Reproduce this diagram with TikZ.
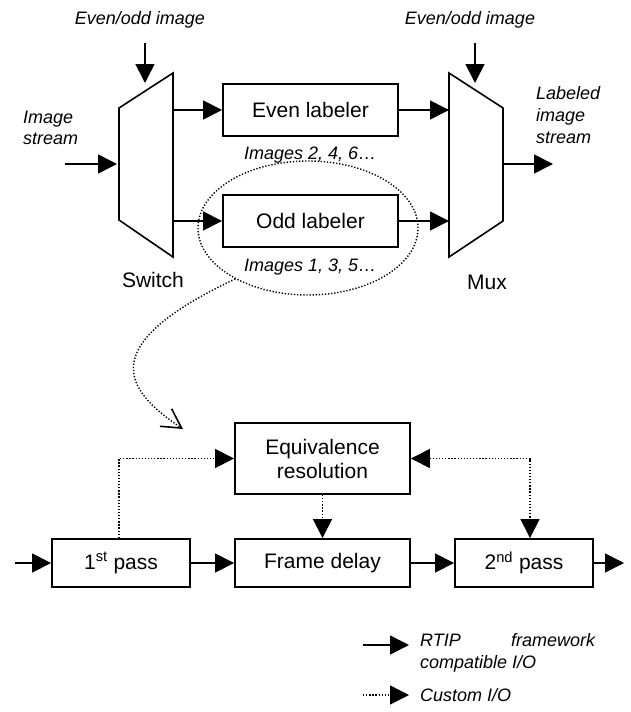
\documentclass[tikz,border=0pt]{standalone}
\usepackage{fontspec}
\setmainfont{Liberation Sans}
\usetikzlibrary{arrows.meta,shapes.geometric}
\begin{document}
\begin{tikzpicture}[
                x = 1pt, y = -1pt,
                io/.style = {line width = 1.6pt, -{Triangle[length = 19pt, width = 19pt]}},
                dots/.style = {line width = 1.4pt, dash pattern = on 1.3pt off 1.8pt},
                custom/.style = {dots, -{Triangle[length = 19pt, width = 19pt]}},
                blk/.style = {draw, line width = 1.9pt, font = \fontsize{21}{24}\selectfont, minimum width = 175pt, minimum height = 52pt, inner sep = 0pt, align = center},
                tag/.style = {font = \fontsize{18}{21.6}\selectfont\itshape, inner sep = 0pt, align = left},
                word/.style = {font = \fontsize{21}{24}\selectfont, inner sep = 0pt}
                ]
                \useasboundingbox (0,0) rectangle (631,712);
                % switch and mux
                \coordinate (sw-nw) at (119,108);
                \coordinate (sw-ne) at (173,73);
                \coordinate (sw-se) at (173,257);
                \coordinate (sw-sw) at (119,220);
                \draw[line width = 1.6pt, line join = miter] (sw-nw) -- (sw-ne) -- (sw-se) -- (sw-sw) -- cycle;
                \coordinate (mx-nw) at (449,73);
                \coordinate (mx-ne) at (503,108);
                \coordinate (mx-se) at (503,221);
                \coordinate (mx-sw) at (449,257);
                \draw[line width = 1.6pt, line join = miter] (mx-nw) -- (mx-ne) -- (mx-se) -- (mx-sw) -- cycle;
                \node[word] (switch) at (153,280) {Switch};
                \node[word] (mux) at (487,282) {Mux};
                % labelers
                \node[blk] (even) at (310.5,110) {Even labeler};
                \node[blk] (odd) at (310.5,221) {Odd labeler};
                \node[tag, anchor = west] (evenimg) at (244,155) {Images 2, 4, 6…};
                \node[tag, anchor = west] (oddimg) at (244,267) {Images 1, 3, 5…};
                \node[tag] (selA) at (140,20) {Even/odd image};
                \node[tag] (selB) at (470,20) {Even/odd image};
                \node[tag, anchor = west] (instream) at (23,128) {Image\\stream};
                \node[tag, anchor = west] (outstream) at (536,115) {Labeled\\image\\stream};
                \coordinate (swin) at (65,164);
                \coordinate (swin-end) at (117,164);
                \coordinate (selA-top) at (145,43);
                \coordinate (selA-end) at (145,83);
                \coordinate (selB-top) at (475,43);
                \coordinate (selB-end) at (475,83);
                \coordinate (mxout) at (503,164);
                \coordinate (mxout-end) at (553,164);
                \draw[io] (swin) -- (swin-end);
                \draw[io] (selA-top) -- (selA-end);
                \draw[io] (selB-top) -- (selB-end);
                \draw[io] (sw-ne |- even.west) -- (even.west);
                \draw[io] (sw-ne |- odd.west) -- (odd.west);
                \draw[io] (even.east) -- (mx-nw |- even.east);
                \draw[io] (odd.east) -- (mx-nw |- odd.east);
                \draw[io] (mxout) -- (mxout-end);
                % the odd labeler, opened up
                \node[ellipse, draw, dots, minimum width = 220pt, minimum height = 134pt, inner sep = 0pt] (group) at (308,228) {};
                \coordinate (zoom) at (183,429);
                \draw[dots, -{Straight Barb[length = 19pt, width = 21pt, line width = 1.6pt]}]
                    (group.215) .. controls (95,345) and (123,389) .. (zoom);
                \node[blk, minimum height = 71pt] (equiv) at (322.5,458.5) {Equivalence\\resolution};
                \node[blk, minimum height = 48pt] (delay) at (322.5,563) {Frame delay};
                \node[blk, minimum width = 138pt, minimum height = 48pt] (pass1) at (121,563) {1\textsuperscript{st} pass};
                \node[blk, minimum width = 138pt, minimum height = 48pt] (pass2) at (524,563) {2\textsuperscript{nd} pass};
                \coordinate (in) at (15,563);
                \coordinate (out) at (624,563);
                \draw[io] (in) -- (pass1);
                \draw[io] (pass1) -- (delay);
                \draw[io] (delay) -- (pass2);
                \draw[io] (pass2) -- (out);
                \draw[custom] ([xshift = -2pt]pass1.north) |- (equiv.west);
                \draw[custom] (equiv) -- (delay);
                \draw[custom, {Triangle[length = 19pt, width = 19pt]}-{Triangle[length = 19pt, width = 19pt]}] (equiv.east) -| ([xshift = 6pt]pass2.north);
                % legend
                \coordinate (keyA) at (363,645);
                \coordinate (keyA-end) at (409,645);
                \coordinate (keyB) at (363,695);
                \coordinate (keyB-end) at (409,695);
                \draw[io] (keyA) -- (keyA-end);
                \draw[custom] (keyB) -- (keyB-end);
                \node[tag, anchor = west] (keyAtext) at (420,653) {\hbox to 175pt{RTIP\hfil framework}\\compatible I/O};
                \node[tag, anchor = west] (keyBtext) at (420,695) {Custom I/O};
            \end{tikzpicture}
\end{document}
